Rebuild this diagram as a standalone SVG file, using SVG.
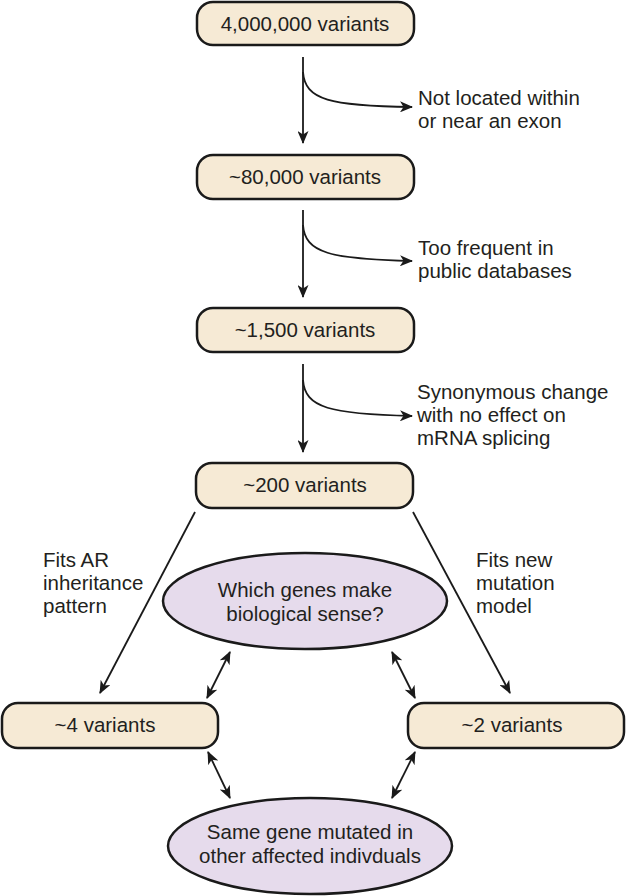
<svg xmlns="http://www.w3.org/2000/svg" width="626" height="896" viewBox="0 0 626 896">
<style>
text{font-family:"Liberation Sans",Arial,sans-serif;font-size:20.5px;fill:#231f20}
.box{fill:#f6ead5;stroke:#1a1a1a;stroke-width:2.5}
.ell{fill:#e6dbec;stroke:#1a1a1a;stroke-width:2.5}
.c{text-anchor:middle}
.ln{fill:none;stroke:#1a1a1a;stroke-width:1.8}
</style>
<defs>
<marker id="ah" viewBox="0 0 13 11" refX="12" refY="5.5" markerWidth="13" markerHeight="11" markerUnits="userSpaceOnUse" orient="auto-start-reverse">
<path d="M0,0 L13,5.5 L0,11 L3.5,5.5 z" fill="#1a1a1a"/>
</marker>
</defs>
<g id="connectors">
<path class="ln" d="M303,57 L303,143" marker-end="url(#ah)"/>
<path class="ln" d="M303,72 C305,100 330,106 412,107" marker-end="url(#ah)"/>
<path class="ln" d="M303,210 L303,297" marker-end="url(#ah)"/>
<path class="ln" d="M303,225 C305,253 330,259 412,261" marker-end="url(#ah)"/>
<path class="ln" d="M303,364 L303,452" marker-end="url(#ah)"/>
<path class="ln" d="M303,380 C305,408 330,414 412,416" marker-end="url(#ah)"/>
<path class="ln" d="M195,512 L100,693" marker-end="url(#ah)"/>
<path class="ln" d="M413,512 L510,693" marker-end="url(#ah)"/>
<path class="ln" d="M230,652 L207,698" marker-start="url(#ah)" marker-end="url(#ah)"/>
<path class="ln" d="M392,652 L415,698" marker-start="url(#ah)" marker-end="url(#ah)"/>
<path class="ln" d="M208,752 L230,798" marker-start="url(#ah)" marker-end="url(#ah)"/>
<path class="ln" d="M415,752 L392,798" marker-start="url(#ah)" marker-end="url(#ah)"/>
</g>
<g id="labels">
<text x="418" y="105">Not located within</text>
<text x="418" y="128">or near an exon</text>
<text x="418" y="255">Too frequent in</text>
<text x="418" y="278">public databases</text>
<text x="417" y="399">Synonymous change</text>
<text x="417" y="422">with no effect on</text>
<text x="417" y="445">mRNA splicing</text>
<text x="43" y="567">Fits AR</text>
<text x="43" y="590">inheritance</text>
<text x="43" y="613">pattern</text>
<text x="476" y="567">Fits new</text>
<text x="476" y="590">mutation</text>
<text x="476" y="613">model</text>
</g>
<g id="n1"><rect class="box" x="197" y="2" width="217" height="43" rx="16"/><text class="c" x="305" y="31">4,000,000 variants</text></g>
<g id="n2"><rect class="box" x="197" y="155" width="217" height="44" rx="16"/><text class="c" x="305" y="184">~80,000 variants</text></g>
<g id="n3"><rect class="box" x="197" y="308" width="217" height="44" rx="16"/><text class="c" x="305" y="337">~1,500 variants</text></g>
<g id="n4"><rect class="box" x="196" y="463" width="217" height="45" rx="16"/><text class="c" x="305" y="492">~200 variants</text></g>
<g id="n5"><ellipse class="ell" cx="305" cy="601" rx="142" ry="48"/><text class="c" x="305" y="597">Which genes make</text><text class="c" x="305" y="621">biological sense?</text></g>
<g id="n6"><rect class="box" x="2" y="703" width="216" height="45" rx="16"/><text class="c" x="105" y="732">~4 variants</text></g>
<g id="n7"><rect class="box" x="408" y="703" width="216" height="45" rx="16"/><text class="c" x="512" y="732">~2 variants</text></g>
<g id="n8"><ellipse class="ell" cx="310" cy="846" rx="142" ry="48"/><text class="c" x="310" y="839">Same gene mutated in</text><text class="c" x="310" y="863">other affected indivduals</text></g>
</svg>
